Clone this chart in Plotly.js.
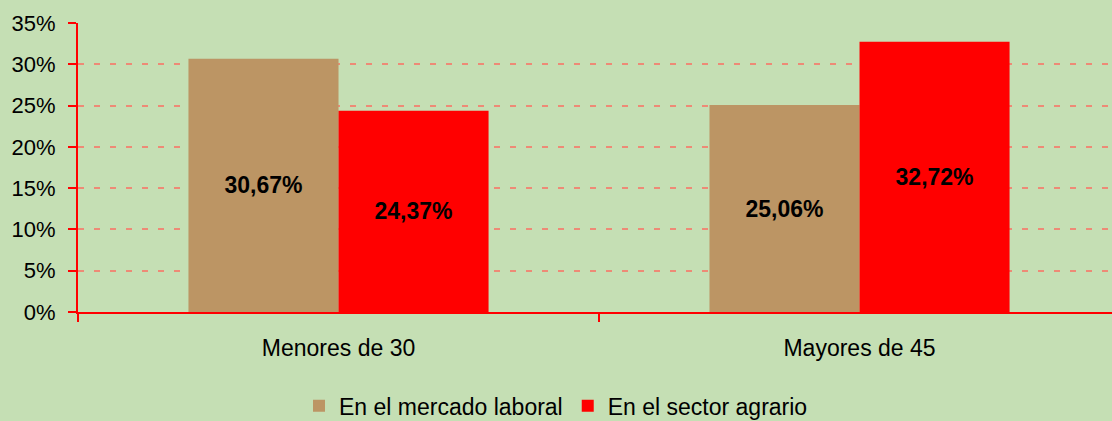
<!DOCTYPE html>
<html>
<head>
<meta charset="utf-8">
<script src="https://cdn.plot.ly/plotly-3.0.1.min.js"></script>
<style>html,body{margin:0;padding:0;background:#c5dfb4;}#chart{width:1112px;height:421px;}</style>
</head>
<body>
<div id="chart"></div>
<script>
const categories = ["Menores de 30", "Mayores de 45"];
const seriesNames = ["En el mercado laboral", "En el sector agrario"];
const mercadoLaboral = [30.67, 25.06];
const sectorAgrario = [24.37, 32.72];
const yTickVals = [0, 5, 10, 15, 20, 25, 30, 35];
const yTickText = ["0%", "5%", "10%", "15%", "20%", "25%", "30%", "35%"];

const fmt = v => v.toFixed(2).replace('.', ',') + '%';
const colors = ["#bc9564", "#ff0000"];
const series = [mercadoLaboral, sectorAgrario];
const FONT = 'Liberation Sans, Arial, sans-serif';

const traces = series.map((vals, i) => ({
  type: 'bar',
  name: seriesNames[i],
  x: categories,
  y: vals,
  text: vals.map(fmt),
  textposition: 'inside',
  insidetextanchor: 'middle',
  textangle: 0,
  textfont: {family: FONT, size: 23, color: '#000', weight: 'bold'},
  marker: {color: colors[i], line: {width: 0}},
  hoverinfo: 'none'
}));

const layout = {
  width: 1112, height: 421,
  margin: {l: 78, r: 0, t: 23, b: 109},
  paper_bgcolor: '#c5dfb4',
  plot_bgcolor: '#c5dfb4',
  barmode: 'group',
  bargap: 0.424,
  bargroupgap: 0,
  showlegend: true,
  font: {family: FONT, size: 23, color: '#000'},
  xaxis: {
    type: 'category',
    range: [-0.5, 1.4846],
    showline: true, linecolor: '#ff0000', linewidth: 2,
    ticks: 'outside', tickson: 'boundaries', ticklen: 8, tickwidth: 2, tickcolor: '#ff0000',
    ticklabelstandoff: 14,
    showgrid: false, zeroline: false,
    tickfont: {family: FONT, size: 23, color: '#000'}
  },
  yaxis: {
    range: [0, 35],
    tickvals: yTickVals, ticktext: yTickText,
    showline: true, linecolor: '#ff0000', linewidth: 2,
    ticks: 'outside', ticklen: 8, tickwidth: 2, tickcolor: '#ff0000',
    ticklabelstandoff: 8,
    showgrid: true, gridcolor: '#ee8a76', gridwidth: 2, griddash: '6px,10px',
    zeroline: false,
    tickfont: {family: FONT, size: 22, color: '#000'}
  },
  legend: {
    orientation: 'h', x: 0.5, xanchor: 'center', xref: 'container',
    y: 0.036, yanchor: 'middle', yref: 'container',
    font: {family: FONT, size: 23, color: '#000'},
    bgcolor: 'rgba(0,0,0,0)',
    itemwidth: 20, tracegroupgap: 0,
    traceorder: 'normal'
  }
};

Plotly.newPlot('chart', traces, layout, {displayModeBar: false, staticPlot: true});
</script>
</body>
</html>
